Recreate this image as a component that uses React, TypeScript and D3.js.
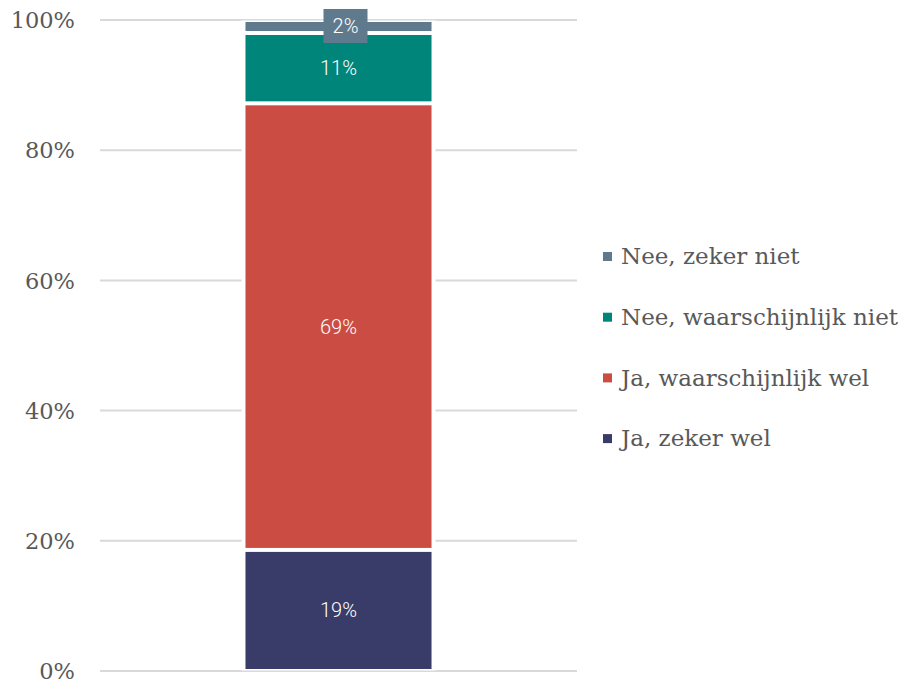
import React from "react";
import * as d3 from "d3";

const categories = ["Ja, zeker wel", "Ja, waarschijnlijk wel", "Nee, waarschijnlijk niet", "Nee, zeker niet"];
const values = [18.6, 68.6, 10.8, 2.0];
const colors = ["#393c68", "#cb4c43", "#00857a", "#5f7a8d"];
const yTicks = [0, 20, 40, 60, 80, 100];
const legendOrder = [3, 2, 1, 0];

export default function App() {
  const width = 903;
  const height = 683;
  const y = d3.scaleLinear().domain([0, 100]).range([671, 20]);
  const x = d3.scaleBand().domain(["Q"]).range([100, 577]).paddingInner(0).paddingOuter(0.782);
  const bx = x("Q") as number;
  const bw = x.bandwidth();
  const stacked = d3.stack<any>().keys(categories)([
    Object.fromEntries(categories.map((c, i) => [c, values[i]])),
  ]);
  const fmt = (v: number) => `${Math.round(v)}%`;
  const serif = "'DejaVu Serif', serif";
  const sans = "Roboto, 'Open Sans', sans-serif";
  return (
    <svg width={width} height={height} style={{ position: "absolute", left: 0, top: 0 }}>
      {yTicks.map((t) => (
        <g key={t}>
          <line x1={100} x2={577} y1={y(t)} y2={y(t)} stroke="#d9d9d9" strokeWidth={2} />
          <text x={75} y={y(t)} dy="0.36em" textAnchor="end" fontFamily={serif} fontSize={22.5} fill="#595959">
            {t}%
          </text>
        </g>
      ))}
      <rect x={bx - 4} y={y(100) + 0.5} width={bw + 8} height={y(0) - y(100) - 1} fill="#fff" />
      {stacked.map((s, i) => {
        const d = s[0];
        const top = y(d[1]);
        const bot = y(d[0]);
        return (
          <rect key={i} x={bx} y={top + 2} width={bw} height={Math.max(0, bot - top - 4)} fill={colors[i]} />
        );
      })}
      {stacked.map((s, i) => {
        const d = s[0];
        const cy = (y(d[0]) + y(d[1])) / 2;
        const v = values[i];
        if (i === 3) {
          const cx = bx + bw / 2 + 7;
          return (
            <g key={i}>
              <rect x={cx - 22} y={9} width={44} height={34} fill={colors[i]} />
              <text x={cx} y={26} dy="0.35em" textAnchor="middle" fontFamily={sans} fontWeight={300} fontSize={20} fill="#fff">
                {fmt(v)}
              </text>
            </g>
          );
        }
        return (
          <text key={i} x={bx + bw / 2} y={cy} dy="0.35em" textAnchor="middle" fontFamily={sans} fontWeight={300} fontSize={20} fill="#fff">
            {fmt(v)}
          </text>
        );
      })}
      {legendOrder.map((ci, k) => {
        const ly = 256 + k * 60.7;
        return (
          <g key={ci}>
            <rect x={603} y={ly - 4} width={9} height={9} fill={colors[ci]} />
            <text x={621} y={ly} dy="0.36em" fontFamily={serif} fontSize={23} fill="#595959">
              {categories[ci]}
            </text>
          </g>
        );
      })}
    </svg>
  );
}
